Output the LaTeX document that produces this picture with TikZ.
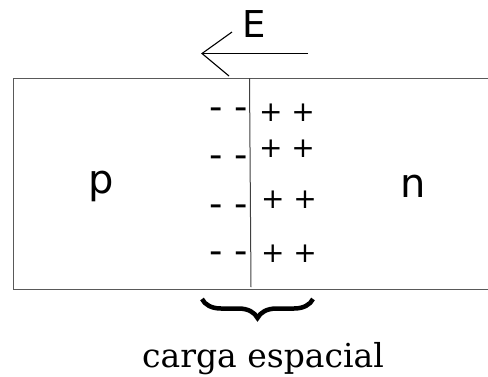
\documentclass[tikz,border=0pt]{standalone}
\usepackage{fontspec}
\setmainfont{DejaVu Serif}
\setsansfont{DejaVu Sans}
\usetikzlibrary{decorations.pathreplacing}
\begin{document}
\begin{tikzpicture}[x=1pt,y=1pt,
  lbl/.style={font=\sffamily\fontsize{40}{40}\selectfont, inner sep=0pt, anchor=base},
  minus/.style={font=\sffamily\fontsize{37}{37}\selectfont, inner sep=0pt, anchor=base},
  plus/.style={font=\sffamily\fontsize{28}{28}\selectfont, inner sep=0pt, anchor=base},
  box/.style={draw=black!65, line width=1.4pt},
  arr/.style={black, line width=1.1pt}]
\useasboundingbox (0,0) rectangle (488,-376);
% junction box
\node[box, inner sep=0pt, minimum width=475pt, minimum height=211pt, anchor=north west] (box) at (12.5,-78) {};
\coordinate (jt) at (249.5,-78);
\coordinate (jb) at (251,-287);
\draw[black!75, line width=1pt] (jt) -- (jb);
% field arrow
\coordinate (as) at (308,-53.5);
\coordinate (ae) at (202,-53.5);
\coordinate (au) at (232,-32);
\coordinate (ad) at (229,-76);
\draw[arr] (as) -- (ae);
\draw[arr] (au) -- (ae) -- (ad);
\node[lbl, font=\sffamily\fontsize{37}{37}\selectfont] (E) at (254,-37) {E};
% regions
\node[lbl] (p) at (101,-193) {p};
\node[lbl] (n) at (413.5,-197) {n};
% charges
\node[minus] (m1) at (229,-119.5) {- -};
\node[minus] (m2) at (229,-167.5) {- -};
\node[minus] (m3) at (229,-216) {- -};
\node[minus] (m4) at (229,-263) {- -};
\node[plus] (p1) at (287,-121) {+ +};
\node[plus] (p2) at (287,-157) {+ +};
\node[plus] (p3) at (289,-208) {+ +};
\node[plus] (p4) at (289,-262) {+ +};
% brace
\coordinate (br) at (313,-299);
\coordinate (bl) at (202,-299);
\draw[line width=4.5pt, decorate, decoration={brace, amplitude=19pt}] (br) -- (bl);
\node[font=\fontsize{33}{33}\selectfont, inner sep=0pt, anchor=base] (cap) at (263,-367) {carga espacial};
\end{tikzpicture}
\end{document}
